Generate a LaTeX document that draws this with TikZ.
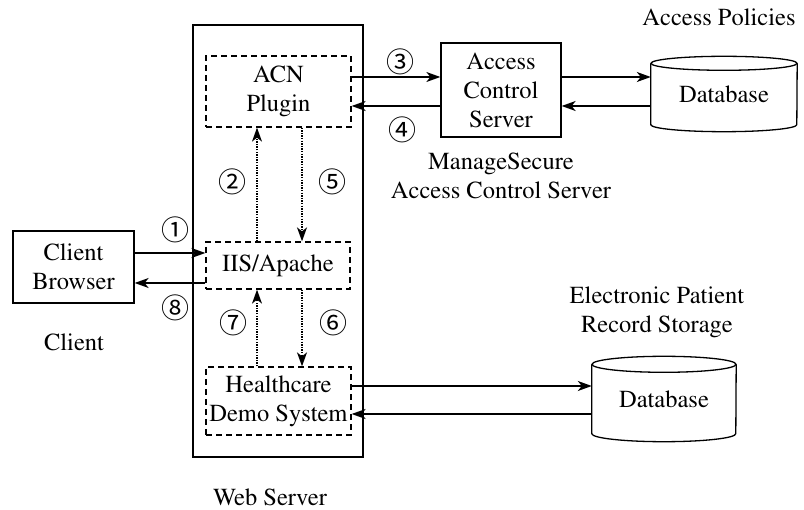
\documentclass[tikz,border=0pt]{standalone}
\usepackage[T1]{fontenc}
\usepackage{fontspec}
\newfontfamily\circfont{Noto Sans CJK SC}
\usetikzlibrary{arrows.meta}
\newcommand\timesfont{\fontencoding{T1}\fontfamily{ptm}\fontseries{m}\fontshape{n}\fontsize{24.5}{29}\selectfont}
\begin{document}
\begin{tikzpicture}[x=1pt,y=-1pt,
  every node/.style={font=\timesfont, align=center, inner sep=0pt},
  solidbox/.style={draw, line width=1.3pt, rectangle},
  dashbox/.style={draw, line width=1.3pt, rectangle, dash pattern=on 6pt off 4pt},
  dbnode/.style={rectangle},
  arr/.style={line width=1.3pt, -{Stealth[length=14pt,width=10pt,inset=4pt]}},
  dotarr/.style={line width=1.3pt, dash pattern=on 1.3pt off 1.3pt, -{Stealth[length=14pt,width=10pt,inset=4pt]}},
  num/.style={font=\circfont\fontsize{28}{28}\selectfont},
  cyl/.style={line width=1.3pt}]
\useasboundingbox (0,0) rectangle (804,510);
% Web server outer box
\node[solidbox, minimum width=170pt, minimum height=432pt] (ws) at (278,241) {};
\node[dashbox, minimum width=145pt, minimum height=71pt] (acn) at (278.5,91.5) {ACN\\Plugin};
\node[dashbox, minimum width=144pt, minimum height=47pt] (iis) at (278,265.5) {IIS/Apache};
\node[dashbox, minimum width=145pt, minimum height=68pt] (hc) at (278.5,401) {Healthcare\\Demo System};
\node[solidbox, minimum width=121pt, minimum height=72pt] (cb) at (73.5,267) {Client\\Browser};
\node[solidbox, minimum width=120pt, minimum height=94pt] (acs) at (501,90) {Access\\Control\\Server};
% databases
\node[dbnode, minimum width=146pt, minimum height=61pt] (db1) at (724,94) {Database};
\node[dbnode, minimum width=144pt, minimum height=69pt] (db2) at (664,399) {Database};
\draw[cyl] (db1.north west) -- (db1.south west) arc[start angle=180, end angle=360, x radius=73pt, y radius=7pt] -- (db1.north east);
\draw[cyl] (db1.north) ellipse[x radius=73pt, y radius=7pt];
\draw[cyl] (db2.north west) -- (db2.south west) arc[start angle=180, end angle=360, x radius=72pt, y radius=8pt] -- (db2.north east);
\draw[cyl] (db2.north) ellipse[x radius=72pt, y radius=8pt];
% labels
\node (lap) at (719,17) {Access Policies};
\node (lms) at (501,176) {ManageSecure\\Access Control Server};
\node (lepr) at (657,312) {Electronic Patient\\Record Storage};
\node (lws) at (270,497) {Web Server};
\node (lcl) at (74,342) {Client};
% solid arrows
\draw[arr] (acn.east |- 0,77) -- (acs.west |- 0,77);
\draw[arr] (acs.west |- 0,106) -- (acn.east |- 0,106);
\draw[arr] (acs.east |- 0,77) -- (db1.west |- 0,77);
\draw[arr] (db1.west |- 0,106) -- (acs.east |- 0,106);
\draw[arr] (cb.east |- 0,253) -- (iis.west |- 0,253);
\draw[arr] (iis.west |- 0,283) -- (cb.east |- 0,283);
\draw[arr] (hc.east |- 0,386) -- (db2.west |- 0,386);
\draw[arr] (db2.west |- 0,414) -- (hc.east |- 0,414);
% dotted arrows
\draw[dotarr] (iis.north -| 257,0) -- (acn.south -| 257,0);
\draw[dotarr] (acn.south -| 302,0) -- (iis.north -| 302,0);
\draw[dotarr] (hc.north -| 257,0) -- (iis.south -| 257,0);
\draw[dotarr] (iis.south -| 302,0) -- (hc.north -| 302,0);
% numbers
\node[num] (n1) at (175,230) {①};
\node[num] (n2) at (232,182) {②};
\node[num] (n3) at (400,62) {③};
\node[num] (n4) at (402,130) {④};
\node[num] (n5) at (332,182) {⑤};
\node[num] (n6) at (333,323) {⑥};
\node[num] (n7) at (233,323) {⑦};
\node[num] (n8) at (175,308) {⑧};
\end{tikzpicture}
\end{document}
